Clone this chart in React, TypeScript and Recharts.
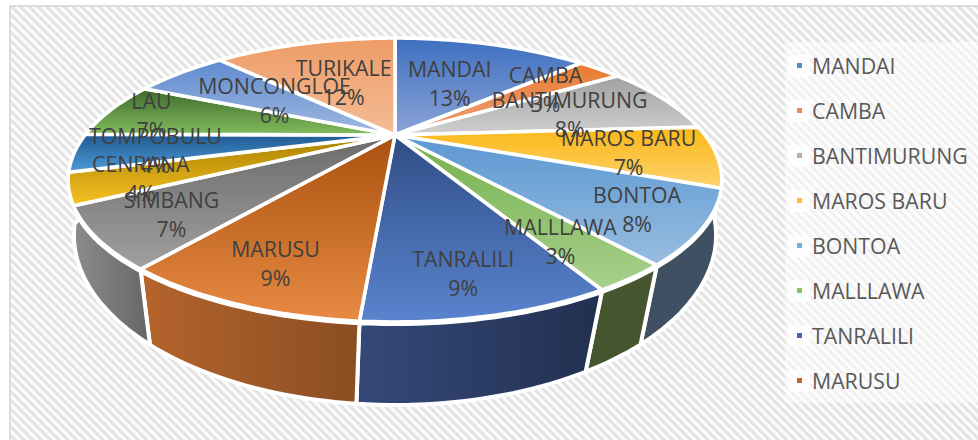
import React from "react";
import { PieChart, Pie, Legend } from "recharts";

const categories = ["MANDAI","CAMBA","BANTIMURUNG","MAROS BARU","BONTOA","MALLLAWA","TANRALILI","MARUSU","SIMBANG","CENRANA","TOMPOBULU","LAU","MONCONGLOE","TURIKALE"];
const shares = [13, 2.9, 8.1, 7, 8, 3, 9.25, 9.3, 6.65, 3.5, 4.4, 6.6, 6.1, 12.2];
const topDark = ["#3d6fc0","#e97a30","#a0a0a0","#fbb715","#5b98d2","#74b04c","#2f4d85","#a9520f","#6b6b6b","#a87f00","#1f5a93","#3d6a2a","#5f8bd0","#ee9c66"];
const topLight = ["#8ca4d8","#efa07a","#d0d0d0","#fdd36e","#98bde0","#a9d18e","#5a84cf","#e88a43","#a0a0a0","#f6c223","#4e9bd8","#82bc5d","#9fb8e0","#f4bc96"];
const sideLeft = ["#3d6fc0","#e97a30","#a0a0a0","#fbb715","#3e5062","#45562f","#35497a","#b5642c","#8c8c8c","#a87f00","#1f5a93","#3d6a2a","#5f8bd0","#ee9c66"];
const sideRight = ["#3d6fc0","#e97a30","#a0a0a0","#fbb715","#3e5062","#45562f","#22304f","#8a4e22","#666666","#a87f00","#1f5a93","#3d6a2a","#5f8bd0","#ee9c66"];
const legendColors = ["#5b84cc","#ee8a4e","#b0b0b0","#fcc02e","#7aaedd","#8cc168","#4468ac","#c4662a"];
const labelFractions = [0.51,0.7,0.63,0.735,0.818,0.76,0.79,0.81,0.79,0.8,0.755,0.85,0.52,0.51];
const labelDrops = [1,3,3.5,3,2.5,7,8,2,3,2,3,3,1,1];
const LEGEND_ROWS = 8;

const rows = categories.map((name, i) => ({ name, value: shares[i], index: i, fill: legendColors[i] ?? topDark[i] }));
const total = shares.reduce((a, b) => a + b, 0);

const K_TOP = 0.317, VERT_TOP = 0.412;
const K_BOT = 0.25, VERT_BOT = 0.514, SCALE_BOT = 1.003, DROP_BOT = 57.5;
const WALL_GAP = 2;
const FONT = "'Open Sans', sans-serif";
const FONT_SIZE = 21.3;
const RAD = Math.PI / 180;

function topPoint(cx: number, cy: number, R: number, deg: number, f = 1) {
  const s = Math.sin(deg * RAD) * f, c = Math.cos(deg * RAD) * f;
  const w = 1 + K_TOP * c;
  return [cx + (R * s) / w, cy - (R * VERT_TOP * c) / w];
}
function bottomPoint(cx: number, cy: number, R: number, deg: number) {
  const s = Math.sin(deg * RAD), c = Math.cos(deg * RAD);
  const w = 1 + K_BOT * c;
  return [cx + (R * SCALE_BOT * s) / w, cy + DROP_BOT - (R * VERT_BOT * c) / w];
}
const arcPts = (fn: (d: number) => number[], a: number, b: number) => {
  const n = Math.max(2, Math.ceil(Math.abs(b - a) / 1.5));
  const out: number[][] = [];
  for (let i = 0; i <= n; i++) out.push(fn(a + ((b - a) * i) / n));
  return out;
};
const toPath = (pts: number[][]) => pts.map((p, i) => `${i ? "L" : "M"}${p[0].toFixed(1)} ${p[1].toFixed(1)}`).join(" ") + " Z";

function TopSlice(props: any) {
  const { cx, cy, outerRadius, startAngle, endAngle, payload } = props;
  const i = payload.index;
  const a = 90 - startAngle, b = 90 - endAngle;
  const id = `top-${i}`;
  const pts = [[cx, cy], ...arcPts((d) => topPoint(cx, cy, outerRadius, d), a, b)];
  return (
    <g>
      <defs>
        <linearGradient id={id} x1="0" y1="0" x2="0" y2="1">
          <stop offset="0" stopColor={topDark[i]} />
          <stop offset="1" stopColor={topLight[i]} />
        </linearGradient>
      </defs>
      <path d={toPath(pts)} fill={`url(#${id})`} stroke="#fff" strokeWidth={3.6} strokeLinejoin="round" />
    </g>
  );
}

const wallTop = [119, 140.4, 218, 238];
const wallBottom = [99, 140.4, 219.5, 259];
function wallAngle(d: number) {
  for (let k = 0; k < wallTop.length - 1; k++) {
    if (d <= wallTop[k + 1]) {
      return wallBottom[k] + ((d - wallTop[k]) * (wallBottom[k + 1] - wallBottom[k])) / (wallTop[k + 1] - wallTop[k]);
    }
  }
  return d;
}
function WallSlice(props: any) {
  const { cx, cy, outerRadius, startAngle, endAngle, payload } = props;
  const i = payload.index;
  const a = Math.max(90 - startAngle, wallTop[0]), b = Math.min(90 - endAngle, wallTop[wallTop.length - 1]);
  if (b <= a) return <g />;
  const id = `wall-${i}`;
  const upper = arcPts((d) => topPoint(cx, cy, outerRadius, d), a, b).map((p) => [p[0], p[1] + WALL_GAP]);
  const lower = arcPts((d) => bottomPoint(cx, cy, outerRadius, wallAngle(d)), b, a);
  return (
    <g>
      <defs>
        <linearGradient id={id} x1="0" y1="0" x2="1" y2="0">
          <stop offset="0" stopColor={sideLeft[i]} />
          <stop offset="1" stopColor={sideRight[i]} />
        </linearGradient>
      </defs>
      <path d={toPath([...upper, ...lower])} fill={`url(#${id})`} stroke="#fff" strokeWidth={4} strokeLinejoin="round" />
    </g>
  );
}

function SliceLabel(props: any) {
  const { cx, cy, outerRadius, midAngle, payload } = props;
  const i = payload.index;
  const [x, y0] = topPoint(cx, cy, outerRadius, 90 - midAngle, labelFractions[i]);
  const y = y0 + labelDrops[i];
  return (
    <text x={x} textAnchor="middle" fontFamily={FONT} fontSize={FONT_SIZE} fill="#404040">
      <tspan x={x} y={y - 7}>{payload.name}</tspan>
      <tspan x={x} y={y + 22}>{Math.round((payload.value / total) * 100)}%</tspan>
    </text>
  );
}

function LegendBox(props: any) {
  const items = (props.payload ?? []).filter((it: any) => it.type !== "none").slice(0, LEGEND_ROWS);
  return (
    <div>
      {items.map((it: any) => (
        <div key={it.value} style={{ display: "flex", alignItems: "center", height: 45, fontFamily: FONT, fontSize: FONT_SIZE, color: "#595959" }}>
          <div style={{ width: 22, height: 22, background: "rgba(255,255,255,0.8)", display: "flex", alignItems: "center", justifyContent: "center", marginRight: 2, borderRadius: 4 }}>
            <div style={{ width: 5, height: 5, background: it.color }} />
          </div>
          <span style={{ whiteSpace: "nowrap" }}>{it.value}</span>
        </div>
      ))}
    </div>
  );
}

const hatch = "repeating-linear-gradient(45deg, #e2e2e2 0, #e2e2e2 1.5px, #f8f8f8 2.9px, #fff 4.6px, #e2e2e2 6.2px)";

export default function App() {
  return (
    <div style={{ position: "fixed", left: 0, top: 0, width: 978, height: 440, background: "#fff", overflow: "hidden" }}>
      <div style={{ position: "absolute", left: 9, top: 5, width: 1000, height: 500, border: "2px solid #dcdcdc", backgroundColor: "#fff", backgroundImage: hatch }} />
      <div style={{ position: "absolute", left: 785, top: 42, width: 193, height: 361, background: "rgba(255,255,255,0.5)" }} />
      <div style={{ position: "absolute", left: 0, top: 0 }}>
        <PieChart width={978} height={440} margin={{ top: 0, right: 0, bottom: 0, left: 0 }}>
          <Pie data={rows} dataKey="value" nameKey="name" cx={395} cy={135} outerRadius={310} startAngle={90} endAngle={-270} paddingAngle={0} legendType="none" isAnimationActive={false} shape={WallSlice} inactiveShape={WallSlice} activeShape={WallSlice} />
          <Pie data={rows} dataKey="value" nameKey="name" cx={395} cy={135} outerRadius={310} startAngle={90} endAngle={-270} paddingAngle={0} isAnimationActive={false} shape={TopSlice} inactiveShape={TopSlice} activeShape={TopSlice} label={SliceLabel} labelLine={false} />
          <Legend content={LegendBox} itemSorter={null} layout="vertical" align="right" verticalAlign="top" wrapperStyle={{ position: "absolute", left: 788, top: 43, width: 190 }} />
        </PieChart>
      </div>
    </div>
  );
}
